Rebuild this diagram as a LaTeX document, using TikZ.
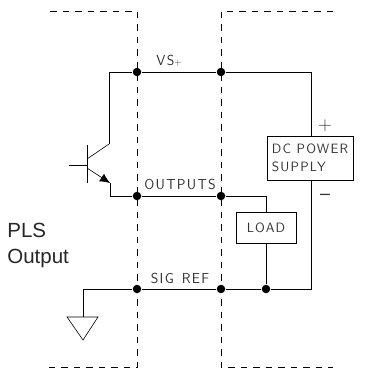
\documentclass[tikz,border=0pt]{standalone}
\usepackage{fontspec}
\setmainfont{Liberation Sans}
\setsansfont[LetterSpace=9]{Latin Modern Sans}
\usetikzlibrary{arrows.meta,positioning}
\begin{document}
\begin{tikzpicture}[x=1pt,y=-1pt,line width=0.8pt,
    dot node/.style={circle,fill=black,inner sep=0pt,minimum size=8.5pt},
    box node/.style={rectangle,draw,line width=0.7pt,inner sep=0pt,align=left,font=\sffamily\fontsize{13.5}{18}\selectfont,text=black!80},
    sig node/.style={font=\sffamily\fontsize{14.5}{18}\selectfont,inner sep=0pt,text=black!80},
    side node/.style={font=\fontsize{20.5}{26}\selectfont,inner sep=0pt,align=left,text=black!85},
    wall/.style={dash pattern=on 6.5pt off 6pt,line width=0.5pt}]
\useasboundingbox (0,0) rectangle (367,372);

% dashed walls
\coordinate (tl) at (50,11);
\coordinate (tm) at (137,11);
\coordinate (tn) at (221,11);
\coordinate (tr) at (333,11);
\coordinate (bl) at (48,367);
\coordinate (bm) at (137,367);
\coordinate (bn) at (221,367);
\coordinate (br) at (333,367);
\draw[wall] (tl) -- (tm) -- (bm) -- (bl);
\draw[wall] (tr) -- (tn) -- (bn) -- (br);

% junctions
\node[dot node] (vs1)  at (137,72)  {};
\node[dot node] (vs2)  at (221,72)  {};
\node[dot node] (out1) at (137,196) {};
\node[dot node] (out2) at (221,196) {};
\node[dot node] (sig1) at (137,289) {};
\node[dot node] (sig2) at (221,289) {};
\node[dot node] (sig3) at (266,289) {};

% boxes
\node[box node,minimum width=86pt,minimum height=44pt] (supply) at (310,158) {DC POWER\\SUPPLY};
\node[box node,minimum width=60pt,minimum height=31pt] (load) at (266,227.5) {LOAD};

% labels
\node[sig node] (vslabel)  at (169,61)  {VS{\fontsize{9}{9}\selectfont +}};
\node[sig node] (outlabel) at (180,184) {OUTPUTS};
\node[sig node] (siglabel) at (180,278) {SIG\hspace{8pt}REF};
\node[font=\sffamily\fontsize{19}{19}\selectfont,inner sep=0pt,text=black!80] (plus) at (325,126) {+};
\node[font=\sffamily\fontsize{21}{21}\selectfont,inner sep=0pt,text=black!80] (minus) at (325,197) {--};
\node[side node,anchor=west] (pls) at (7,245) {PLS\\Output};

% transistor
\coordinate (bartop) at (87,145);
\coordinate (barbot) at (87,183);
\coordinate (base)   at (69,165);
\coordinate (basein) at (87,165);
\coordinate (col)    at (87,159);
\coordinate (colend) at (109,144);
\coordinate (emi)    at (87,168);
\coordinate (emiend) at (110,183);
\coordinate (emidown) at (110,196);
\draw[line width=0.6pt] (bartop) -- (barbot);
\draw[line width=0.6pt] (base) -- (basein);
\draw[line width=0.6pt] (col) -- (colend);
\draw[-{Latex[length=10pt,width=9pt]},line width=0.6pt] (emi) -- (emiend);

% wires
\draw (colend) |- (vs1);
\draw (vs1) -- (vs2) -| (supply.north -| 311,0);
\draw (emiend) -- (emidown) -- (out1) -- (out2);
\draw (out2) -| (load.north);
\draw (load.south) -- (sig3);

% ground
\coordinate (gnd) at (83,317);
\coordinate (gndl) at (67,317);
\coordinate (gndr) at (98,317);
\coordinate (gndb) at (83,340);
\draw (sig3) -- (sig2) -- (sig1) -| (gnd);
\draw[line width=0.6pt] (gndl) -- (gndr) -- (gndb) -- cycle;
\draw (sig3) -| (supply.south -| 311,0);
\end{tikzpicture}
\end{document}
